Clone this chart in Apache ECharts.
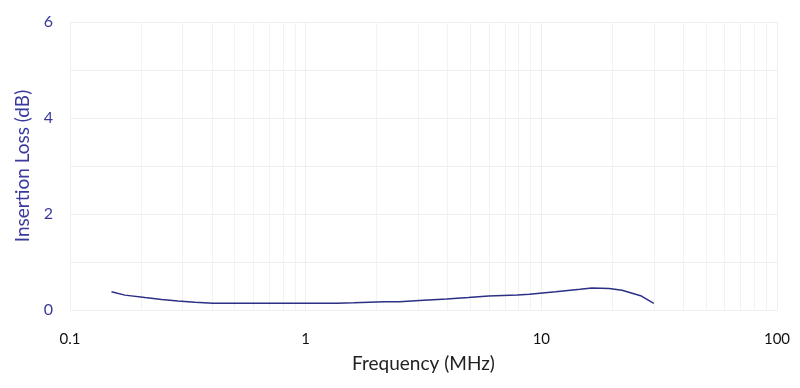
<!DOCTYPE html>
<html><head><meta charset="utf-8">
<script src="https://cdn.jsdelivr.net/npm/echarts@6/dist/echarts.min.js"></script>
<style>html,body{margin:0;padding:0;background:#fff}#c{width:800px;height:388px}</style>
</head><body><div id="c"></div>
<script>
const freqMHz = [0.15, 0.171, 0.208, 0.245, 0.287, 0.339, 0.404, 0.6, 1.0, 1.35, 1.6, 2.16, 2.5, 3.04, 3.96, 4.9, 5.97, 7.9, 8.9, 11.5, 14.6, 16.4, 19.4, 22.0, 26.6, 30.0];
const lossDb = [0.38, 0.31, 0.26, 0.22, 0.19, 0.16, 0.14, 0.14, 0.14, 0.14, 0.15, 0.17, 0.17, 0.20, 0.23, 0.26, 0.29, 0.31, 0.33, 0.38, 0.43, 0.46, 0.45, 0.41, 0.29, 0.14];
const minorFreq = [0.2,0.3,0.4,0.5,0.6,0.7,0.8,0.9,2,3,4,5,6,7,8,9,20,30,40,50,60,70,80,90];
const yTicks = [0, 2, 4, 6];

const chart = echarts.init(document.getElementById('c'), null, {renderer:'canvas'});
const font = 'Lato, "Open Sans", sans-serif';
chart.setOption({
  animation: false,
  grid: {left: 70, right: 23, top: 22, bottom: 78},
  xAxis: {
    type: 'log', logBase: 10, min: 0.1, max: 100,
    name: 'Frequency (MHz)', nameLocation: 'middle', nameGap: 44,
    nameTextStyle: {fontFamily: font, fontSize: 19, color: '#222'},
    axisLine: {show: false}, axisTick: {show: false},
    axisLabel: {fontFamily: font, fontSize: 15, color: '#111', margin: 22,
      formatter: v => String(v)},
    splitLine: {show: true, lineStyle: {color: '#efefef', width: 1}}
  },
  yAxis: {
    type: 'value', min: 0, max: 6, interval: 1,
    name: 'Insertion Loss (dB)', nameLocation: 'middle', nameGap: 35,
    nameTextStyle: {fontFamily: font, fontSize: 19, color: '#3a3a9c'},
    axisLine: {show: false}, axisTick: {show: false},
    axisLabel: {fontFamily: font, fontSize: 16, color: '#3a3a9c', margin: 17,
      formatter: v => yTicks.indexOf(v) >= 0 ? String(v) : ''},
    splitLine: {show: true, lineStyle: {color: '#efefef', width: 1}}
  },
  series: [{
    type: 'line',
    data: freqMHz.map((f, i) => [f, lossDb[i]]),
    showSymbol: false,
    lineStyle: {color: '#2b2f86', width: 1.5},
    markLine: {
      silent: true, symbol: 'none', label: {show: false},
      lineStyle: {color: '#f2f2f2', width: 1, type: 'solid'},
      data: minorFreq.map(f => ({xAxis: f}))
    },
    z: 5
  }]
});
</script></body></html>
